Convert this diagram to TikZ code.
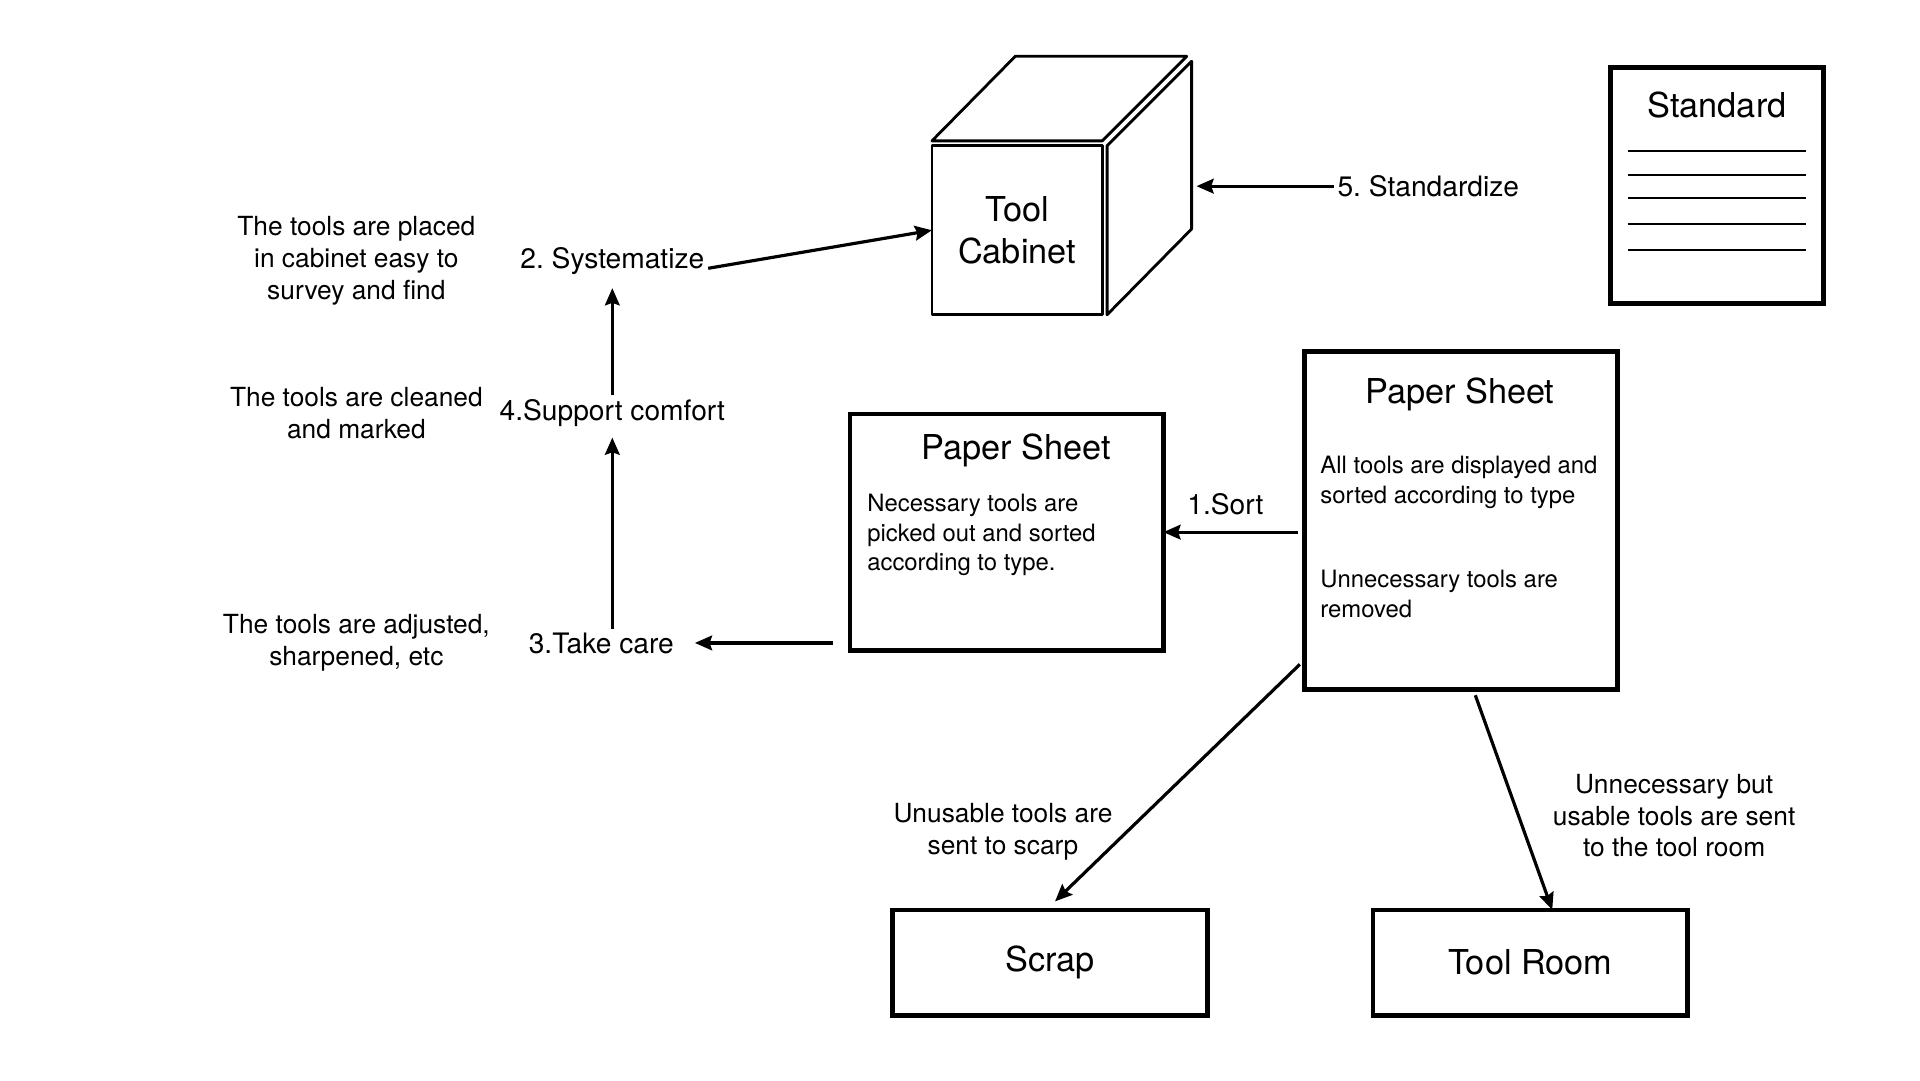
\documentclass[tikz,border=0pt]{standalone}
\usepackage{fontspec}
\setmainfont{TeX Gyre Heros}
\usetikzlibrary{positioning}
\usetikzlibrary{arrows.meta}
\frenchspacing

\begin{document}
\begin{tikzpicture}[
        x = 1pt,
        y = -1pt,
        box/.style = {
            draw,
            line width = 3.8pt,
            minimum width = #1,
            inner sep = 0pt,
            outer sep = 0pt
        },
        box/.default = 256pt,
        big/.style = {font=\fontsize{28}{34}\selectfont, align=center},
        stage/.style = {font=\fontsize{23}{27}\selectfont, inner sep=3pt},
        note/.style = {font=\fontsize{21.5}{26}\selectfont, align=center},
        body/.style = {font=\fontsize{19.5}{24}\selectfont, align=left, anchor=west, inner sep=0pt},
        link/.style = {line width = 2.6pt, -{Stealth[length=14pt, width=12pt, inset=2pt]}},
        rule/.style = {line width = 1.5pt},
        face/.style = {line width = 2.3pt, line join=round}
    ]
    \useasboundingbox (0,0) rectangle (1567.8,881.9);

    \node[box=139pt, minimum height=138pt, face, big] (cab) at (830.5,188) {Tool\\Cabinet};
    \draw[face] ([yshift=4pt]cab.north west) -- ++(68,-69) -- ++(140,0) -- ++(-69,69) -- cycle;
    \draw[face] ([xshift=4pt]cab.north east) -- ++(69,-69) -- ++(0,137) -- ++(-69,70) -- cycle;
    \coordinate (side) at (977,152);

    \node[box=174pt, minimum height=193pt] (std) at (1402,151.5) {};
    \node[big] (stdtitle) at (1402,86) {Standard};
    \foreach \y in {123,143,162,183,204}
        \draw[rule] (1329,\y) -- (1475,\y);

    \node[stage, anchor=west] (five) at (1089,152) {5. Standardize};

    \node[box, minimum height=193pt] (sheetA) at (822,434.5) {};
    \node[big] (titleA) at (830,368) {Paper Sheet};
    \node[body] (bodyA) at (708,437) {Necessary tools are\\picked out and sorted\\according to type.};

    \node[box, minimum height=276pt] (sheetB) at (1193,425) {};
    \node[big] (titleB) at (1192,322) {Paper Sheet};
    \node[body] (bodyB) at (1078,394) {All tools are displayed and\\sorted according to type};
    \node[body] (bodyC) at (1078,485) {Unnecessary tools are\\removed};

    \node[stage] (two) at (500,213) {2. Systematize};
    \node[stage] (four) at (500,337) {4.Support comfort};
    \node[stage] (three) at (491,525) {3.Take care};

    \node[note] (placed) at (291,213) {The tools are placed\\in cabinet easy to\\survey and find};
    \node[note] (cleaned) at (291,337) {The tools are cleaned\\and marked};
    \node[note] (adjusted) at (291,525) {The tools are adjusted,\\sharpened, etc};

    \node[box=257pt, minimum height=86pt, big] (scrap) at (857.5,786) {Scrap};
    \node[box=257pt, minimum height=86pt, big] (room) at (1249.5,786) {Tool Room};
    \node[note] (unusable) at (819,679) {Unusable tools are\\sent to scarp};
    \node[note] (usable) at (1367,666) {Unnecessary but\\usable tools are sent\\to the tool room};

    \draw[link] (five) -- (side);
    \draw[link, shorten <=5pt] (sheetA.east -| sheetB.west) -- node[stage, pos=0.56, above=10pt] (sort) {1.Sort} (sheetA.east);
    \draw[link, shorten <=14pt, shorten >=14pt] (three -| sheetA.west) -- (three);
    \draw[link, shorten >=6pt] (three.north -| four) -- (four);
    \draw[link, shorten >=8pt] (four) -- (two);
    \draw[link] (two.base east) -- (cab.west);

    \draw[link, shorten <=5pt] ([yshift=24pt]sheetB.south west) -- ([xshift=4pt,yshift=7pt]scrap.north);
    \draw[link, shorten <=5pt] ([xshift=10pt]sheetB.south) -- ([xshift=18pt]room.north);

\end{tikzpicture}
\end{document}
